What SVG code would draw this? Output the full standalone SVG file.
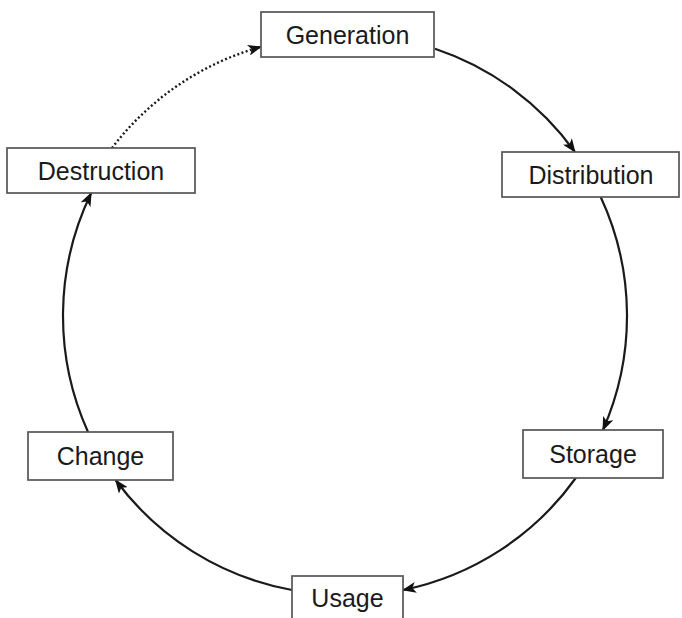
<svg xmlns="http://www.w3.org/2000/svg" width="682" height="618" viewBox="0 0 682 618">
  <style>
    .box { fill: #ffffff; stroke: #555555; stroke-width: 1.7; }
    .label { font-family: "Liberation Sans", Arial, Helvetica, sans-serif; font-size: 25px; fill: #1a1a1a; text-anchor: middle; }
    .flow { fill: none; stroke: #1a1a1a; stroke-width: 2.2; }
    .dotted { stroke-dasharray: 2 2.4; stroke-width: 2.4; }
  </style>
  <defs>
    <marker id="arrow" viewBox="0 0 14 11" refX="13" refY="5.5" markerWidth="14" markerHeight="11" markerUnits="userSpaceOnUse" orient="auto">
      <path d="M0,0 L14,5.5 L0,11 L3.5,5.5 Z" fill="#111111"/>
    </marker>
  </defs>
  <rect width="682" height="618" fill="#ffffff"/>

  <!-- cycle arcs, circle centred at (345,316), r = 282 -->
  <g id="connectors">
    <path class="flow" d="M435,48.7 A282,282 0 0 1 575,152" marker-end="url(#arrow)"/>
    <path class="flow" d="M600.7,197 A282,282 0 0 1 602.9,430" marker-end="url(#arrow)"/>
    <path class="flow" d="M575.8,478 A282,282 0 0 1 403,590" marker-end="url(#arrow)"/>
    <path class="flow" d="M292,590 A282,282 0 0 1 115.6,480" marker-end="url(#arrow)"/>
    <path class="flow" d="M88,432 A282,282 0 0 1 91.2,193" marker-end="url(#arrow)"/>
    <path class="flow dotted" d="M112,148 A282,282 0 0 1 261,46.8" marker-end="url(#arrow)"/>
  </g>

  <g id="generation">
    <rect class="box" x="261" y="12" width="173" height="45"/>
    <text class="label" x="347.5" y="44">Generation</text>
  </g>
  <g id="distribution">
    <rect class="box" x="502" y="152" width="177" height="45"/>
    <text class="label" x="591" y="184">Distribution</text>
  </g>
  <g id="storage">
    <rect class="box" x="523" y="430" width="140" height="48"/>
    <text class="label" x="593" y="463">Storage</text>
  </g>
  <g id="usage">
    <rect class="box" x="292" y="576" width="111" height="50"/>
    <text class="label" x="347.5" y="607">Usage</text>
  </g>
  <g id="change">
    <rect class="box" x="28" y="432" width="145" height="48"/>
    <text class="label" x="100.5" y="465">Change</text>
  </g>
  <g id="destruction">
    <rect class="box" x="7" y="148" width="188" height="45"/>
    <text class="label" x="101" y="180">Destruction</text>
  </g>
</svg>
